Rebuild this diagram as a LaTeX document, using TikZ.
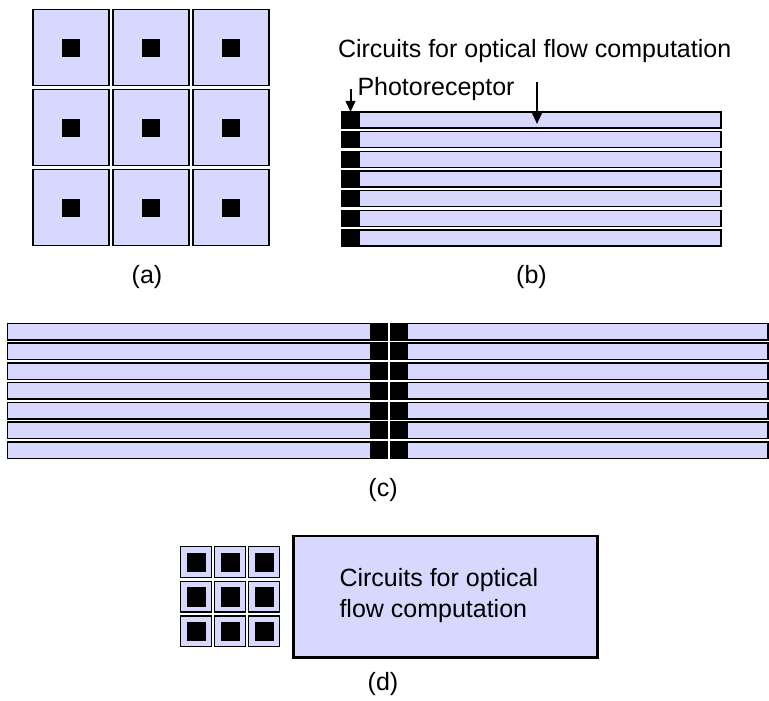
\documentclass[tikz,border=0pt]{standalone}
\usepackage{fontspec}
\setmainfont{Liberation Sans}
\usetikzlibrary{arrows.meta}
\definecolor{cellfill}{RGB}{216,216,255}
\begin{document}
\begin{tikzpicture}[x=0.5pt,y=-0.5pt,
  every node/.style={inner sep=0pt, outer sep=0pt},
  cell/.style={draw=black, fill=cellfill, line width=0.75pt, rectangle},
  bigcell/.style={cell, minimum size=38pt},
  smallcell/.style={cell, minimum size=15.3pt},
  pixel/.style={fill=black, draw=black, line width=0.3pt, rectangle},
  strip/.style={cell, minimum height=8pt},
  cstrip/.style={cell, minimum height=8.25pt},
  lbl/.style={font=\fontsize{12.5}{15.5}\selectfont, anchor=base},
  txt/.style={font=\fontsize{12.5}{15.5}\selectfont, anchor=base west},
  arr/.style={line width=1pt, -{Triangle[length=5.5pt,width=4.8pt]}}]
\useasboundingbox (0,0) rectangle (769,700);

% (a) 3x3 array of pixels, photoreceptor in the middle of each
\foreach \i in {0,1,2} {
  \foreach \j in {0,1,2} {
    \node[bigcell] (a\i\j) at (71+80*\i, 47.5+80*\j) {};
    \node[pixel, minimum size=8.5pt] (ap\i\j) at (a\i\j.center) {};
  }
}
\node[lbl] (la) at (147,283.5) {(a)};

% (b) photoreceptors in one column, circuits stretched to the right
\foreach \k in {0,...,6} {
  \node[strip, minimum width=189.5pt] (b\k) at (531.5, 120+19.67*\k) {};
  \node[pixel, minimum width=8.5pt, minimum height=8pt] (bp\k) at (350.5, 120+19.67*\k) {};
}
\node[txt] (tcirc) at (338,58) {Circuits for optical flow computation};
\node[txt] (tphoto) at (357.5,96) {Photoreceptor};
\coordinate (ptail) at (350.5,89);
\coordinate (ctail) at (537,82);
\coordinate (ctip) at (537,124);
\draw[arr] (ptail) -- (bp0.north);
\draw[arr] (ctail) -- (ctip);
\node[lbl] (lb) at (531.5,283.5) {(b)};

% (c) two mirrored columns meeting in the middle
\foreach \k in {0,...,6} {
  \node[cstrip, minimum width=189.75pt] (cl\k) at (197.25, 331.75+19.73*\k) {};
  \node[pixel, minimum width=8.25pt, minimum height=8.25pt] (clp\k) at (378.75, 331.75+19.73*\k) {};
  \node[cstrip, minimum width=188.5pt] (cr\k) at (579.5, 331.75+19.73*\k) {};
  \node[pixel, minimum width=8.25pt, minimum height=8.25pt] (crp\k) at (399.25, 331.75+19.73*\k) {};
}
\node[lbl] (lc) at (383,496.5) {(c)};

% (d) compact pixel array beside a separate circuit block
\foreach \i in {0,1,2} {
  \foreach \j in {0,1,2} {
    \node[smallcell] (d\i\j) at (196+34*\i, 562+34.6*\j) {};
    \node[pixel, minimum size=9.2pt] (dp\i\j) at (d\i\j.center) {};
  }
}
\node[cell, line width=1.3pt, minimum width=152pt, minimum height=60.65pt] (dbox) at (445.3,596.7) {};
\node[txt, align=left] (dtext) at (339.5,617) {Circuits for optical\\flow computation};
\node[lbl] (ld) at (383,690.5) {(d)};
\end{tikzpicture}
\end{document}
